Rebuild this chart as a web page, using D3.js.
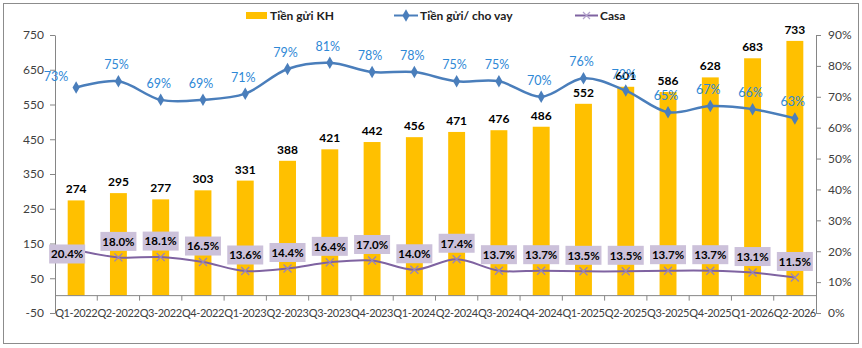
<!DOCTYPE html>
<html>
<head>
<meta charset="utf-8">
<script src="https://cdn.jsdelivr.net/npm/d3@7"></script>
<style>
  body { margin: 0; background: #fff; }
  svg text { font-family: Lato, "Open Sans", sans-serif; }
</style>
</head>
<body>
<div class="container"></div>
<script>
// data
var quarters = ["Q1-2022","Q2-2022","Q3-2022","Q4-2022","Q1-2023","Q2-2023","Q3-2023","Q4-2023",
                "Q1-2024","Q2-2024","Q3-2024","Q4-2024","Q1-2025","Q2-2025","Q3-2025","Q4-2025",
                "Q1-2026","Q2-2026"];
var tienGuiKH = [274,295,277,303,331,388,421,442,456,471,476,486,552,601,586,628,683,733];
var ldr = [73,75,69,69,71,79,81,78,78,75,75,70,76,72,65,67,66,63];          // Tiền gửi/ cho vay (%)
var casa = [20.4,18.0,18.1,16.5,13.6,14.4,16.4,17.0,14.0,17.4,13.7,13.7,13.5,13.5,13.7,13.7,13.1,11.5];
var leftTicks = [-50,50,150,250,350,450,550,650,750];
var rightTicks = [0,10,20,30,40,50,60,70,80,90];

var width = 862, height = 348;
var plotL = 55, plotR = 816, plotT = 35, plotB = 313;

var svg = d3.select("div.container").append("svg")
    .attr("width", width)
    .attr("height", height);

// outer frame
svg.append("rect")
    .attr("x", 3.5).attr("y", 3.5)
    .attr("width", 855).attr("height", 340)
    .attr("fill", "#fff")
    .attr("stroke", "#8c8c8c");

var x = d3.scaleBand().domain(quarters).range([plotL, plotR]).padding(0);
var step = x.step();
var cx = function(q) { return x(q) + step / 2; };

var yL = d3.scaleLinear().domain([-50, 750]).range([plotB, plotT]);
var yR = d3.scaleLinear().domain([0, 90]).range([plotB, plotT]);

// left axis
var axL = svg.append("g")
    .attr("transform", "translate(" + plotL + ",0)")
    .call(d3.axisLeft(yL).tickValues(leftTicks).tickSize(5).tickSizeOuter(0).tickPadding(6)
        .tickFormat(function(d) { return String(d); }));
// right axis
var axR = svg.append("g")
    .attr("transform", "translate(" + plotR + ",0)")
    .call(d3.axisRight(yR).tickValues(rightTicks).tickSize(5).tickSizeOuter(0).tickPadding(7)
        .tickFormat(function(d) { return d + "%"; }));

[axL, axR].forEach(function(a) {
    a.selectAll("path, line").attr("stroke", "#868686");
    a.selectAll("text").attr("fill", "#404040").style("font-size", "12px");
});

// bars
svg.selectAll(".bar")
    .data(tienGuiKH)
    .enter().append("rect")
    .attr("class", "bar")
    .attr("x", function(d, i) { return cx(quarters[i]) - step * 0.2; })
    .attr("width", step * 0.4)
    .attr("y", function(d) { return yL(d); })
    .attr("height", function(d) { return yL(0) - yL(d); })
    .attr("fill", "#FFC000");

// category axis at zero
var y0 = yL(0);
svg.append("line")
    .attr("x1", plotL).attr("x2", plotR)
    .attr("y1", y0).attr("y2", y0)
    .attr("stroke", "#868686");
svg.selectAll(".xtick")
    .data(quarters.slice(1))
    .enter().append("line")
    .attr("x1", function(d) { return x(d); }).attr("x2", function(d) { return x(d); })
    .attr("y1", y0).attr("y2", y0 + 5)
    .attr("stroke", "#868686");
svg.selectAll(".xlab")
    .data(quarters)
    .enter().append("text")
    .attr("x", function(d) { return cx(d); })
    .attr("y", plotB + 4)
    .attr("text-anchor", "middle")
    .attr("fill", "#404040")
    .style("font-size", "11px")
    .style("letter-spacing", "-0.4px")
    .text(function(d) { return d; });

// bar labels
svg.selectAll(".blab")
    .data(tienGuiKH)
    .enter().append("text")
    .attr("x", function(d, i) { return cx(quarters[i]); })
    .attr("y", function(d) { return yL(d) - 7; })
    .attr("text-anchor", "middle")
    .attr("fill", "#000")
    .style("font-size", "12px")
    .style("font-weight", "bold")
    .text(function(d) { return d; });

// Tiền gửi/ cho vay line
var lineR = d3.line()
    .x(function(d, i) { return cx(quarters[i]); })
    .y(function(d) { return yR(d); })
    .curve(d3.curveCatmullRom.alpha(0.5));

svg.append("path")
    .attr("d", lineR(ldr))
    .attr("fill", "none")
    .attr("stroke", "#4A7EBB")
    .attr("stroke-width", 2.5);

var diamond = d3.symbol().type(d3.symbolDiamond).size(45);
svg.selectAll(".dm")
    .data(ldr)
    .enter().append("path")
    .attr("d", diamond)
    .attr("transform", function(d, i) { return "translate(" + cx(quarters[i]) + "," + yR(d) + ")"; })
    .attr("fill", "#4A7EBB");

svg.selectAll(".llab")
    .data(ldr)
    .enter().append("text")
    .attr("x", function(d, i) { return i === 0 ? cx(quarters[i]) - 20 : cx(quarters[i]) - 2; })
    .attr("y", function(d, i) { return i === 0 ? yR(d) - 7 : yR(d) - 12; })
    .attr("text-anchor", "middle")
    .attr("fill", "#2E88D6")
    .style("font-size", "12.5px")
    .text(function(d) { return d + "%"; });

// Casa line
svg.append("path")
    .attr("d", lineR(casa))
    .attr("fill", "none")
    .attr("stroke", "#7F63A1")
    .attr("stroke-width", 2);

svg.selectAll(".cx")
    .data(casa)
    .enter().append("path")
    .attr("d", "M-4,-4L4,4M-4,4L4,-4")
    .attr("transform", function(d, i) { return "translate(" + cx(quarters[i]) + "," + yR(d) + ")"; })
    .attr("stroke", "#9a84b8")
    .attr("stroke-width", 1.3)
    .attr("fill", "none");

var cl = svg.selectAll(".clab")
    .data(casa)
    .enter().append("g")
    .attr("transform", function(d, i) {
        var px = cx(quarters[i]), py = yR(d) - 16;
        if (i === 0) { px -= 9; py = yR(d) + 4; }
        return "translate(" + px + "," + py + ")";
    });
cl.append("rect")
    .attr("x", -18).attr("y", -9.5)
    .attr("width", 36).attr("height", 19)
    .attr("fill", "#CCC1DA");
cl.append("text")
    .attr("y", 4.3)
    .attr("text-anchor", "middle")
    .attr("fill", "#000")
    .style("font-size", "11.5px")
    .style("font-weight", "bold")
    .text(function(d) { return d.toFixed(1) + "%"; });

// legend
var lg = svg.append("g").style("font-size", "12px").style("font-weight", "bold").attr("fill", "#222");
lg.append("rect").attr("x", 246).attr("y", 12).attr("width", 21).attr("height", 7).attr("fill", "#FFC000");
lg.append("text").attr("x", 270).attr("y", 20).text("Tiền gửi KH");

lg.append("line").attr("x1", 394).attr("x2", 418).attr("y1", 15.5).attr("y2", 15.5)
    .attr("stroke", "#4A7EBB").attr("stroke-width", 2);
lg.append("path").attr("d", diamond).attr("transform", "translate(406,15.5)").attr("fill", "#4A7EBB");
lg.append("text").attr("x", 420).attr("y", 20).text("Tiền gửi/ cho vay");

lg.append("line").attr("x1", 575).attr("x2", 598).attr("y1", 15.5).attr("y2", 15.5)
    .attr("stroke", "#7F63A1").attr("stroke-width", 2);
lg.append("path").attr("d", "M-3.5,-3.5L3.5,3.5M-3.5,3.5L3.5,-3.5")
    .attr("transform", "translate(586.5,15.5)").attr("stroke", "#b3a2cc").attr("stroke-width", 1.2);
lg.append("text").attr("x", 600).attr("y", 20).text("Casa");
</script>
</body>
</html>
